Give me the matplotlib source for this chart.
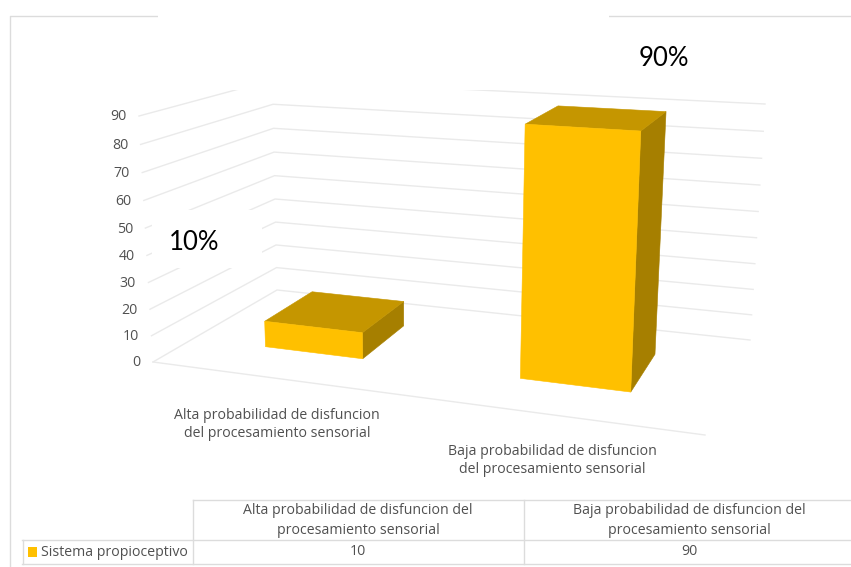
import matplotlib
matplotlib.use("Agg")
import matplotlib.pyplot as plt
from matplotlib.patches import Rectangle

categories = ["Alta probabilidad de disfuncion\ndel procesamiento sensorial",
              "Baja probabilidad de disfuncion\ndel procesamiento sensorial"]
table_headers = ["Alta probabilidad de disfuncion del\nprocesamiento sensorial",
                 "Baja probabilidad de disfuncion del\nprocesamiento sensorial"]
series_name = "Sistema propioceptivo"
values = [10, 90]
value_labels = ["10%", "90%"]
tick_values = [0, 10, 20, 30, 40, 50, 60, 70, 80, 90]

FRONT = "#FFC000"
TOP = "#C59600"
SIDE = "#A67F00"
GRID = "#EAEAEA"
BORDER = "#DCDCDC"
TEXT = "#505050"
FONT = "Open Sans"
SIZE = 10.2

# pixel corners of the 3d box: (across, depth) on the floor, then the same at value 90
floor = {(0, 0): (153, 362), (1, 0): (705, 435), (0, 1): (277, 290), (1, 1): (750, 340)}
rise = {(0, 0): (-14, -246), (1, 0): (14, -282), (0, 1): (-4.5, -210), (1, 1): (15, -236)}
VMAX = 90

# bar footprints in box coordinates
bar_spans = [(0.135, 0.32), (0.62, 0.83)]
bar_depth = (0.335, 0.75)


def bilinear(corners, x, d, axis):
    front = (1 - x) * corners[(0, 0)][axis] + x * corners[(1, 0)][axis]
    back = (1 - x) * corners[(0, 1)][axis] + x * corners[(1, 1)][axis]
    return (1 - d) * front + d * back


def project(x, d, v):
    t = v / VMAX
    t = t - 0.045 * t * (1 - t)  # slight perspective on the value axis
    return (bilinear(floor, x, d, 0) + t * bilinear(rise, x, d, 0),
            bilinear(floor, x, d, 1) + t * bilinear(rise, x, d, 1))


def face(ax, points, color, z):
    xs = [p[0] for p in points]
    ys = [p[1] for p in points]
    ax.fill(xs, ys, facecolor=color, edgecolor=color, linewidth=0.4, zorder=z)


fig = plt.figure(figsize=(8.51, 5.67), dpi=100)
ax = fig.add_axes([0, 0, 1, 1])
ax.set_xlim(0, 851)
ax.set_ylim(567, 0)
ax.axis("off")

# outer frame
ax.plot([9.5, 9.5, 158], [567, 15.5, 15.5], color=BORDER, lw=1, zorder=1)
ax.plot([609, 851], [15.5, 15.5], color=BORDER, lw=1, zorder=1)

# gridlines on the walls
for v in tick_values:
    pts = [project(0, 0, v), project(0, 1, v), project(1, 1, v)]
    ax.plot([p[0] for p in pts], [p[1] for p in pts], color=GRID, lw=1, zorder=2)
    sx, sy = project(0, 0, v)
    ax.text(sx - 12.5, sy + 1, str(v), ha="right", va="center", fontsize=SIZE,
            color=TEXT, family=FONT, zorder=6)
a = project(0, 0, 0)
b = project(1, 0, 0)
ax.plot([a[0], b[0]], [a[1], b[1]], color=GRID, lw=1, zorder=2)

# white boxes that sit over the gridlines in the original slide
ax.add_patch(Rectangle((158, 0), 451, 90, facecolor="white", edgecolor="none", zorder=3))
ax.add_patch(Rectangle((152, 210), 110, 58, facecolor="white", edgecolor="none", zorder=3))

# bars
d0, d1 = bar_depth
for (x0, x1), v in zip(bar_spans, values):
    face(ax, [project(x0, d0, 0), project(x1, d0, 0), project(x1, d0, v), project(x0, d0, v)], FRONT, 5)
    face(ax, [project(x1, d0, 0), project(x1, d1, 0), project(x1, d1, v), project(x1, d0, v)], SIDE, 4)
    face(ax, [project(x0, d0, v), project(x1, d0, v), project(x1, d1, v), project(x0, d1, v)], TOP, 4)

# percentages added as text boxes
ax.text(194, 243, value_labels[0], ha="center", va="center", fontsize=18.5, color="black", family="Lato", zorder=6)
ax.text(664, 59, value_labels[1], ha="center", va="center", fontsize=18.5, color="black", family="Lato", zorder=6)

# category labels
ax.text(277, 424.5, categories[0], ha="center", va="center", fontsize=SIZE, color=TEXT,
        family=FONT, linespacing=1.33, zorder=6)
ax.text(552, 460.5, categories[1], ha="center", va="center", fontsize=SIZE, color=TEXT,
        family=FONT, linespacing=1.33, zorder=6)

# data table
ax.plot([192.5, 851], [499.5, 499.5], color=BORDER, lw=1, zorder=1)
ax.plot([22, 851], [539.5, 539.5], color=BORDER, lw=1, zorder=1)
ax.plot([22, 851], [563.5, 563.5], color=BORDER, lw=1, zorder=1)
ax.plot([22.5, 22.5], [539.5, 563.5], color=BORDER, lw=1, zorder=1)
ax.plot([192.5, 192.5], [499.5, 563.5], color=BORDER, lw=1, zorder=1)
ax.plot([523.5, 523.5], [499.5, 563.5], color=BORDER, lw=1, zorder=1)
ax.add_patch(Rectangle((28, 547), 9, 9.5, facecolor=FRONT, edgecolor="none", zorder=5))
ax.text(41, 552, series_name, ha="left", va="center", fontsize=SIZE, color=TEXT, family=FONT, zorder=6)
for cx, head, v in zip([358, 689], table_headers, values):
    ax.text(cx, 520.5, head, ha="center", va="center", fontsize=SIZE, color=TEXT,
            family=FONT, linespacing=1.45, zorder=6)
    ax.text(cx, 551.5, str(v), ha="center", va="center", fontsize=SIZE, color=TEXT, family=FONT, zorder=6)

fig.savefig("out.png", dpi=100)
plt.close(fig)
